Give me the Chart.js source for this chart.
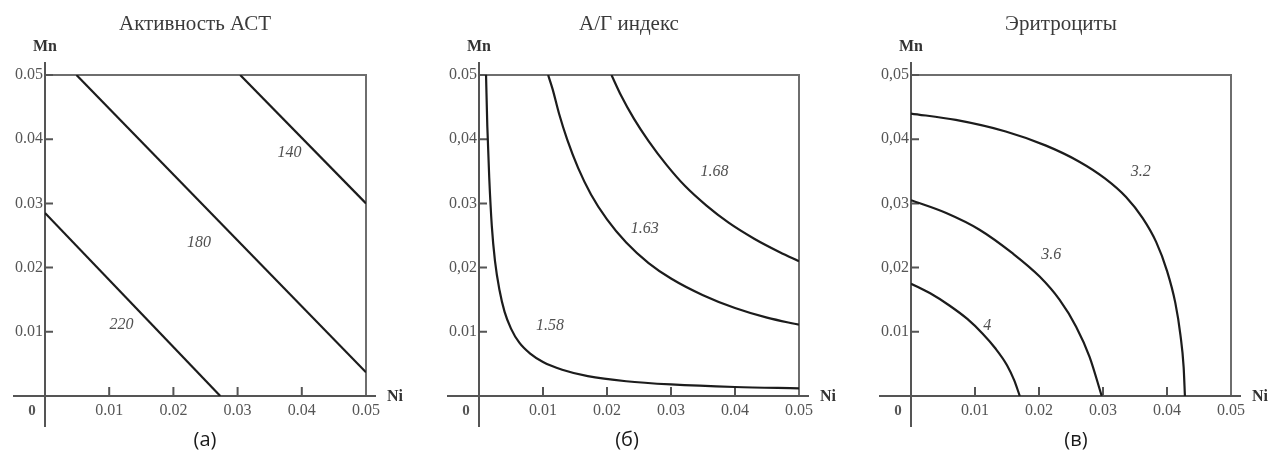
<!DOCTYPE html>
<html><head><meta charset="utf-8">
<script src="https://cdn.jsdelivr.net/npm/chart.js@4/dist/chart.umd.min.js"></script>
<style>
html,body{margin:0;padding:0;background:#fff;}
body{width:1271px;height:454px;overflow:hidden;position:relative;}
.p{position:absolute;top:0;height:454px;}
</style></head>
<body>
<div class="p" style="left:0px;width:434px"><canvas id="c0" width="434" height="454"></canvas></div>
<div class="p" style="left:434px;width:432px"><canvas id="c1" width="432" height="454"></canvas></div>
<div class="p" style="left:866px;width:405px"><canvas id="c2" width="405" height="454"></canvas></div>
<script>
// ---------- data ----------
const tickValues = [0.01, 0.02, 0.03, 0.04, 0.05];
const xTickLabels = ['0.01', '0.02', '0.03', '0.04', '0.05'];
const yTickLabelsA = ['0.01', '0.02', '0.03', '0.04', '0.05'];
const yTickLabelsB = ['0.01', '0,02', '0.03', '0,04', '0.05'];
const yTickLabelsC = ['0.01', '0,02', '0,03', '0,04', '0,05'];
const titles = ['Активность АСТ', 'А/Г индекс', 'Эритроциты'];
const captions = ['(а)', '(б)', '(в)'];
const xAxisName = 'Ni';
const yAxisName = 'Mn';
const originLabel = '0';

// Panel (а): AST activity
const ast140Ni = [0.0304, 0.05];
const ast140Mn = [0.05, 0.030];
const ast180Ni = [0.0049, 0.05];
const ast180Mn = [0.05, 0.0037];
const ast220Ni = [0, 0.0273];
const ast220Mn = [0.0285, 0];
const astLabels = ['140', '180', '220'];
const astLabelNi = [0.0381, 0.0240, 0.0119];
const astLabelMn = [0.0379, 0.0239, 0.0111];

// Panel (б): A/G index
const ag158Ni = [0.0011, 0.0013, 0.0016, 0.0020, 0.0025, 0.0032, 0.0040, 0.0050, 0.0063, 0.0080, 0.0100, 0.0130, 0.0170, 0.0230, 0.0300, 0.0400, 0.0500];
const ag158Mn = [0.0500, 0.0420, 0.0340, 0.0265, 0.0210, 0.0165, 0.0131, 0.0105, 0.0083, 0.0066, 0.0053, 0.0041, 0.0031, 0.0023, 0.0018, 0.0014, 0.0012];
const ag163Ni = [0.0108, 0.0115, 0.0125, 0.0138, 0.0155, 0.0175, 0.0200, 0.0230, 0.0265, 0.0300, 0.0350, 0.0400, 0.0450, 0.0500];
const ag163Mn = [0.0500, 0.0478, 0.0440, 0.0399, 0.0355, 0.0314, 0.0275, 0.0239, 0.0207, 0.0183, 0.0157, 0.0137, 0.0122, 0.0111];
const ag168Ni = [0.0207, 0.0222, 0.0242, 0.0265, 0.0293, 0.0322, 0.0355, 0.0390, 0.0430, 0.0470, 0.0500];
const ag168Mn = [0.0500, 0.0468, 0.0432, 0.0397, 0.0360, 0.0327, 0.0297, 0.0270, 0.0245, 0.0224, 0.0210];
const agLabels = ['1.58', '1.63', '1.68'];
const agLabelNi = [0.0111, 0.0259, 0.0368];
const agLabelMn = [0.0109, 0.0261, 0.0350];

// Panel (в): erythrocytes
const er32Ni = [0, 0.0070, 0.0148, 0.0211, 0.0263, 0.0303, 0.0336, 0.0362, 0.0383, 0.0400, 0.0413, 0.0421, 0.0426, 0.0428];
const er32Mn = [0.0440, 0.0430, 0.0412, 0.0390, 0.0365, 0.0339, 0.0310, 0.0277, 0.0240, 0.0195, 0.0145, 0.0095, 0.0045, 0];
const er36Ni = [0, 0.0055, 0.0107, 0.0159, 0.0201, 0.0232, 0.0258, 0.0279, 0.0298];
const er36Mn = [0.0305, 0.0285, 0.0259, 0.0222, 0.0186, 0.0150, 0.0108, 0.0061, 0];
const er4Ni = [0, 0.0030, 0.0060, 0.0088, 0.0112, 0.0132, 0.0150, 0.0161, 0.0170];
const er4Mn = [0.0175, 0.0160, 0.0141, 0.0120, 0.0097, 0.0074, 0.0048, 0.0025, 0];
const erLabels = ['3.2', '3.6', '4'];
const erLabelNi = [0.0359, 0.0219, 0.0119];
const erLabelMn = [0.0349, 0.0220, 0.0109];

// ---------- rendering ----------
const SERIF = '"Liberation Serif", "Times New Roman", serif';
const pts = (xs, ys) => xs.map((x, i) => ({x: x, y: ys[i]}));
const line = (xs, ys) => ({
  data: pts(xs, ys), showLine: true, pointRadius: 0, pointHoverRadius: 0,
  borderColor: '#1c1c1c', borderWidth: 2.2, cubicInterpolationMode: 'monotone', fill: false
});

const decorPlugin = {
  id: 'decor',
  beforeDatasetsDraw(chart, args, o) {
    const ctx = chart.ctx, xs = chart.scales.x, ys = chart.scales.y;
    const x0 = xs.getPixelForValue(0), x1 = xs.getPixelForValue(0.05);
    const y0 = ys.getPixelForValue(0), y1 = ys.getPixelForValue(0.05);
    ctx.save();
    ctx.lineCap = 'butt';
    ctx.strokeStyle = '#6e6e6e'; ctx.lineWidth = 2;
    ctx.beginPath();
    ctx.moveTo(x0, y1); ctx.lineTo(x1, y1); ctx.lineTo(x1, y0);
    ctx.stroke();
    ctx.strokeStyle = '#555'; ctx.lineWidth = 2;
    ctx.beginPath();
    ctx.moveTo(x0 - 32, y0); ctx.lineTo(x1 + 10, y0);
    ctx.moveTo(x0, y1 - 13); ctx.lineTo(x0, y0 + 31);
    ctx.stroke();
    ctx.beginPath();
    tickValues.forEach(v => {
      const px = xs.getPixelForValue(v), py = ys.getPixelForValue(v);
      if (v < 0.05) { ctx.moveTo(px, y0); ctx.lineTo(px, y0 - 9); }
      ctx.moveTo(x0, py); ctx.lineTo(x0 + 8, py);
    });
    ctx.stroke();
    ctx.restore();
  },
  afterDraw(chart, args, o) {
    const ctx = chart.ctx, xs = chart.scales.x, ys = chart.scales.y;
    const x0 = xs.getPixelForValue(0), x1 = xs.getPixelForValue(0.05);
    const y0 = ys.getPixelForValue(0);
    ctx.save();
    ctx.textAlign = 'center'; ctx.textBaseline = 'middle';
    ctx.fillStyle = '#505050';
    ctx.font = 'italic 16px ' + SERIF;
    o.labels.forEach((t, i) => {
      ctx.fillText(t, xs.getPixelForValue(o.labelX[i]), ys.getPixelForValue(o.labelY[i]));
    });
    ctx.fillStyle = '#333';
    ctx.font = 'bold 16px ' + SERIF;
    ctx.fillText(yAxisName, x0, 47);
    ctx.fillText(xAxisName, x1 + 29, y0 + 1);
    ctx.font = 'bold 15px ' + SERIF;
    ctx.fillStyle = '#555';
    ctx.fillText(originLabel, x0 - 13, 411);
    ctx.fillStyle = '#3a3a3a';
    ctx.font = '21px ' + SERIF;
    ctx.fillText(o.title, x0 + 150, 24);
    ctx.fillStyle = '#1a1a1a';
    ctx.font = '20px "Open Sans", "Noto Sans", sans-serif';
    ctx.fillText(o.caption, o.captionX, 440);
    ctx.restore();
  }
};

function makePanel(id, datasets, yLabels, rightPad, decor) {
  new Chart(document.getElementById(id), {
    type: 'scatter',
    data: {datasets: datasets},
    plugins: [decorPlugin],
    options: {
      responsive: false, animation: false,
      layout: {padding: {top: 75, right: rightPad, left: 0, bottom: 0}},
      plugins: {legend: {display: false}, tooltip: {enabled: false}, decor: decor},
      scales: {
        x: {
          type: 'linear', position: 'bottom', min: 0, max: 0.05,
          grid: {display: false, drawTicks: false}, border: {display: false},
          afterBuildTicks: s => { s.ticks = tickValues.map(v => ({value: v})); },
          afterFit: s => { s.height = 58; },
          ticks: {
            padding: 5, maxRotation: 0, autoSkip: false, color: '#555',
            font: {family: SERIF, size: 16},
            callback: (v) => { const i = tickValues.indexOf(v); return i >= 0 ? xTickLabels[i] : ''; }
          }
        },
        y: {
          type: 'linear', position: 'left', min: 0, max: 0.05,
          grid: {display: false, drawTicks: false}, border: {display: false},
          afterBuildTicks: s => { s.ticks = tickValues.map(v => ({value: v})); },
          afterFit: s => { s.width = 45; },
          ticks: {
            padding: 2, autoSkip: false, color: '#555',
            font: {family: SERIF, size: 16},
            callback: (v) => { const i = tickValues.indexOf(v); return i >= 0 ? yLabels[i] : ''; }
          }
        }
      }
    }
  });
}

makePanel('c0', [line(ast140Ni, ast140Mn), line(ast180Ni, ast180Mn), line(ast220Ni, ast220Mn)],
  yTickLabelsA, 68,
  {labels: astLabels, labelX: astLabelNi, labelY: astLabelMn, title: titles[0], caption: captions[0], captionX: 205});
makePanel('c1', [line(ag158Ni, ag158Mn), line(ag163Ni, ag163Mn), line(ag168Ni, ag168Mn)],
  yTickLabelsB, 67,
  {labels: agLabels, labelX: agLabelNi, labelY: agLabelMn, title: titles[1], caption: captions[1], captionX: 193});
makePanel('c2', [line(er32Ni, er32Mn), line(er36Ni, er36Mn), line(er4Ni, er4Mn)],
  yTickLabelsC, 40,
  {labels: erLabels, labelX: erLabelNi, labelY: erLabelMn, title: titles[2], caption: captions[2], captionX: 210});
</script>
</body></html>
